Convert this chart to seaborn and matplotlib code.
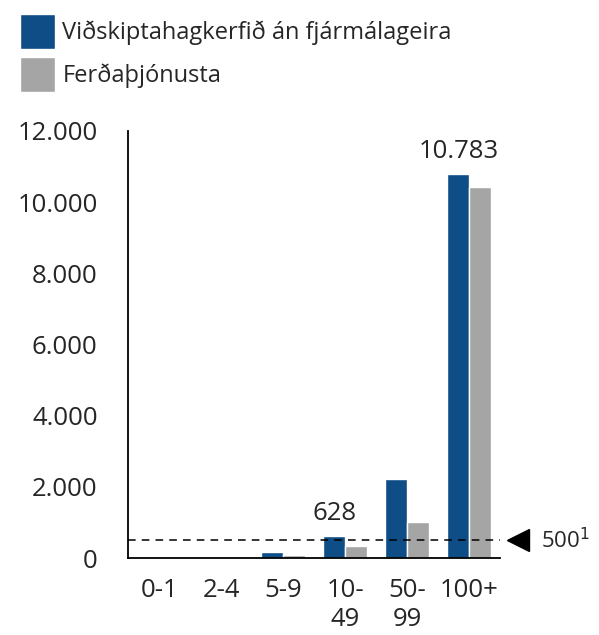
import matplotlib
matplotlib.use('Agg')
import matplotlib.pyplot as plt
import matplotlib.transforms as mtransforms
import pandas as pd
import seaborn as sns
from matplotlib.patches import Patch

categories = ['0-1', '2-4', '5-9', '10-\n49', '50-\n99', '100+']
series_names = ['Viðskiptahagkerfið án fjármálageira', 'Ferðaþjónusta']
economy = [5, 40, 170, 628, 2220, 10783]
tourism = [3, 12, 90, 335, 1010, 10420]
threshold = 500
y_ticks = [0, 2000, 4000, 6000, 8000, 10000, 12000]

BLUE = '#0e4d86'
GRAY = '#a5a5a5'


def fmt_is(v):
    return f'{int(v):,}'.replace(',', '.')


df = pd.DataFrame({
    'category': categories * 2,
    'value': economy + tourism,
    'series': [series_names[0]] * len(categories) + [series_names[1]] * len(categories),
})

sns.set_style('white')
plt.rcParams['font.family'] = ['Open Sans', 'DejaVu Sans']

fig = plt.figure(figsize=(5.99, 6.35), dpi=100)
ax = fig.add_axes([0.214, 0.121, 0.621, 0.673])

sns.barplot(data=df, x='category', y='value', hue='series', order=categories,
            hue_order=series_names, palette=[BLUE, GRAY], width=0.7,
            saturation=1, legend=False, ax=ax)

ax.set_xlim(-0.5, len(categories) - 0.5)
ax.set_ylim(0, 12000)
ax.set_yticks(y_ticks)
ax.set_yticklabels([fmt_is(v) for v in y_ticks])
ax.set_xlabel('')
ax.set_ylabel('')
ax.tick_params(axis='y', labelsize=18.5, length=6, width=1, direction='out', pad=16)
ax.tick_params(axis='x', labelsize=18.5, length=0, pad=14)
for lbl in ax.get_xticklabels():
    lbl.set_linespacing(1.25)

for side in ['top', 'right']:
    ax.spines[side].set_visible(False)
for side in ['left', 'bottom']:
    ax.spines[side].set_color('black')
    ax.spines[side].set_linewidth(1.3)

# value labels on selected blue bars
blue_bars = ax.containers[0]
labels = ['' for _ in economy]
labels[3] = fmt_is(economy[3])
labels[5] = fmt_is(economy[5])
ax.bar_label(blue_bars, labels=labels, padding=7, fontsize=18.5)

# threshold line
ax.axhline(threshold, color='black', linestyle='--', linewidth=1.1, dashes=(5, 4))
trans = mtransforms.blended_transform_factory(ax.transAxes, ax.transData)
ax.plot([1.048], [threshold], marker='<', color='black', markersize=16,
        transform=trans, clip_on=False)
ax.text(1.11, threshold, '500$^1$', transform=trans, va='center', ha='left', fontsize=16)

handles = [Patch(facecolor=BLUE), Patch(facecolor=GRAY)]
fig.legend(handles, series_names, loc='upper left', bbox_to_anchor=(0.033, 0.978),
           frameon=False, fontsize=17, handlelength=1.5, handleheight=1.9,
           handletextpad=0.3, labelspacing=0.35, borderaxespad=0, borderpad=0)

fig.savefig('out.png', dpi=100)
